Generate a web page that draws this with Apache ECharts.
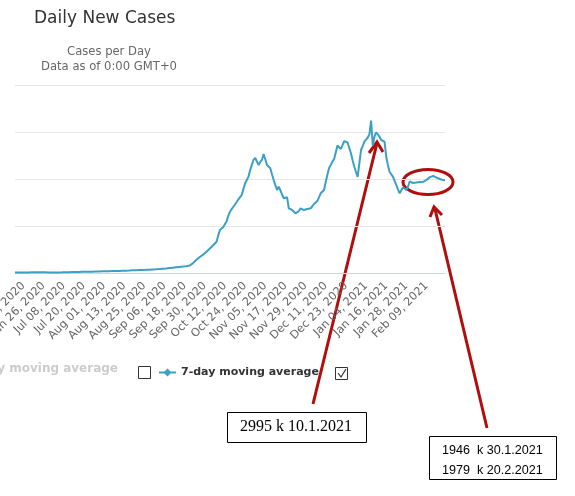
<!DOCTYPE html>
<html>
<head>
<meta charset="utf-8">
<script src="https://cdn.jsdelivr.net/npm/echarts@6/dist/echarts.min.js"></script>
<style>
  html, body { margin: 0; padding: 0; background: #fff; }
  #chart { width: 575px; height: 496px; }
</style>
</head>
<body>
<div id="chart"></div>
<script>
// first day shown and how many days
var startDay = Date.UTC(2020, 5, 9)
var dayCount = 257

// 7-day moving average (Jun 9 2020 .. Feb 20 2021)
var avg7 = [
  8, 9, 9, 10, 11, 11, 12, 12, 13, 13,
  14, 14, 15, 15, 16, 16, 15, 15, 14, 14,
  13, 13, 12, 12, 12, 13, 13, 14, 14, 15,
  16, 17, 18, 19, 20, 21, 22, 23, 23, 24,
  24, 25, 25, 26, 27, 28, 29, 30, 31, 32,
  33, 34, 35, 36, 37, 38, 39, 40, 41, 42,
  43, 44, 45, 46, 47, 48, 49, 50, 52, 54,
  56, 58, 60, 62, 64, 65, 66, 66, 67, 68,
  70, 72, 74, 76, 78, 80, 83, 86, 90, 93,
  96, 100, 104, 108, 112, 116, 120, 124, 128, 132,
  136, 140, 145, 150, 160, 180, 210, 240, 280, 310,
  340, 360, 390, 420, 453, 480, 520, 560, 590, 630,
  666, 800, 915, 950, 980, 1000, 1100, 1220, 1304, 1360,
  1410, 1447, 1510, 1568, 1600, 1660, 1790, 1909, 1980, 2050,
  2190, 2300, 2405, 2450, 2440, 2298, 2360, 2405, 2532, 2420,
  2298, 2260, 2228, 2100, 1979, 1870, 1766, 1836, 1760, 1670,
  1590, 1600, 1611, 1377, 1360, 1341, 1300, 1270, 1255, 1320,
  1377, 1360, 1340, 1341, 1360, 1370, 1377, 1420, 1468, 1500,
  1530, 1553, 1696, 1730, 1766, 1943, 2090, 2234, 2300, 2370,
  2426, 2570, 2713, 2680, 2639, 2720, 2805, 2800, 2777, 2660,
  2547, 2400, 2262, 2150, 2043, 2330, 2617, 2700, 2794, 2840,
  2883, 2950, 3241, 2713, 2900, 2995, 2973, 2900, 2830, 2810,
  2794, 2475, 2300, 2156, 2100, 2050, 1960, 1873, 1780, 1696,
  1760, 1824, 1790, 1766, 1840, 1946, 1910, 1915, 1922, 1925,
  1930, 1935, 1938, 1940, 1943, 1980, 2015, 2040, 2055, 2064,
  2050, 2030, 2015, 2000, 1990, 1975, 1979
]

var yTicks = [0, 1000, 2000, 3000, 4000]

// annotation texts
var note1 = ['2995 k 10.1.2021']
var note2 = ['1946  k 30.1.2021', '1979  k 20.2.2021']

var monthNames = ['Jan', 'Feb', 'Mar', 'Apr', 'May', 'Jun', 'Jul', 'Aug', 'Sep', 'Oct', 'Nov', 'Dec']
var days = []
for (var i = 0; i < dayCount; i++) {
  var d = new Date(startDay + i * 86400000)
  var dd = d.getUTCDate()
  days.push(monthNames[d.getUTCMonth()] + ' ' + (dd < 10 ? '0' + dd : dd) + ', ' + d.getUTCFullYear())
}

var red = '#b00d0d'
var blue = '#3aa0c6'

var chart = echarts.init(document.getElementById('chart'))

chart.setOption({
  animation: false,
  title: [
    {
      text: 'Daily New Cases',
      left: 29, top: 5,
      textStyle: { fontFamily: 'DejaVu Sans', fontSize: 17, fontWeight: 'normal', color: '#333' }
    },
    {
      text: 'Cases per Day\nData as of 0:00 GMT+0',
      left: 104, top: 39, textAlign: 'center',
      textStyle: { fontFamily: 'DejaVu Sans', fontSize: 11.6, fontWeight: 'normal', color: '#666', lineHeight: 15 }
    }
  ],
  legend: {
    data: ['7-day moving average'],
    left: 153, top: 362,
    itemWidth: 17, itemHeight: 10, itemGap: 4,
    textStyle: { fontFamily: 'DejaVu Sans', fontSize: 11, fontWeight: 'bold', color: '#333' }
  },
  grid: { left: 15, right: 130, top: 85, bottom: 223, containLabel: false, outerBoundsMode: 'none' },
  xAxis: {
    type: 'category',
    data: days,
    boundaryGap: false,
    axisLine: { lineStyle: { color: '#ccd6eb' } },
    axisTick: { show: false },
    axisLabel: {
      rotate: 45,
      margin: 11,
      fontFamily: 'DejaVu Sans',
      fontSize: 11.3,
      color: '#666',
      interval: function (idx) { return (idx - 5) % 12 === 0 }
    }
  },
  yAxis: {
    type: 'value',
    min: yTicks[0], max: yTicks[yTicks.length - 1], interval: 1000,
    axisLabel: { show: false },
    axisLine: { show: false },
    axisTick: { show: false },
    splitLine: { lineStyle: { color: '#e6e6e6' } }
  },
  series: [{
    name: '7-day moving average',
    type: 'line',
    data: avg7,
    showSymbol: false,
    symbol: 'diamond',
    symbolSize: 8,
    itemStyle: { color: blue },
    lineStyle: { color: blue, width: 2 }
  }],
  graphic: [
    // greyed, cut off legend item
    { type: 'text', right: 575 - 118, top: 363,
      style: { text: '3-day moving average', fill: '#cccccc', font: 'bold 12px DejaVu Sans' } },
    { type: 'rect', shape: { x: 138.5, y: 366.5, width: 12, height: 12 },
      style: { fill: '#fff', stroke: '#333', lineWidth: 1 } },
    { type: 'rect', shape: { x: 335.5, y: 367.5, width: 12, height: 12 },
      style: { fill: '#fff', stroke: '#333', lineWidth: 1 } },
    { type: 'polyline', shape: { points: [[338, 373], [341, 377], [346, 369]] },
      style: { stroke: '#333', lineWidth: 1.2, fill: null } },

    // red annotations
    { type: 'line', shape: { x1: 313, y1: 404, x2: 377, y2: 143 },
      style: { stroke: red, lineWidth: 3 } },
    { type: 'polyline', shape: { points: [[369, 153], [377, 142], [383, 152]] },
      style: { stroke: red, lineWidth: 3, fill: null } },
    { type: 'line', shape: { x1: 487, y1: 428, x2: 435, y2: 209 },
      style: { stroke: red, lineWidth: 3 } },
    { type: 'polyline', shape: { points: [[430, 217], [434, 207], [442, 215]] },
      style: { stroke: red, lineWidth: 3, fill: null } },
    { type: 'ellipse', shape: { cx: 428, cy: 182, rx: 25, ry: 12.5 },
      style: { stroke: red, lineWidth: 3, fill: null } },

    { type: 'rect', shape: { x: 227.5, y: 412.5, width: 139, height: 30 },
      style: { fill: '#fff', stroke: '#000', lineWidth: 1 } },
    { type: 'text', x: 240, y: 419,
      style: { text: note1[0], fill: '#000', font: '16px Liberation Serif' } },

    { type: 'rect', shape: { x: 429.5, y: 436.5, width: 127, height: 43 },
      style: { fill: '#fff', stroke: '#000', lineWidth: 1 } },
    { type: 'text', x: 442, y: 441,
      style: { text: note2.join('\n'), fill: '#000', font: '12.6px Liberation Sans', lineHeight: 20 } }
  ]
})
</script>
</body>
</html>
